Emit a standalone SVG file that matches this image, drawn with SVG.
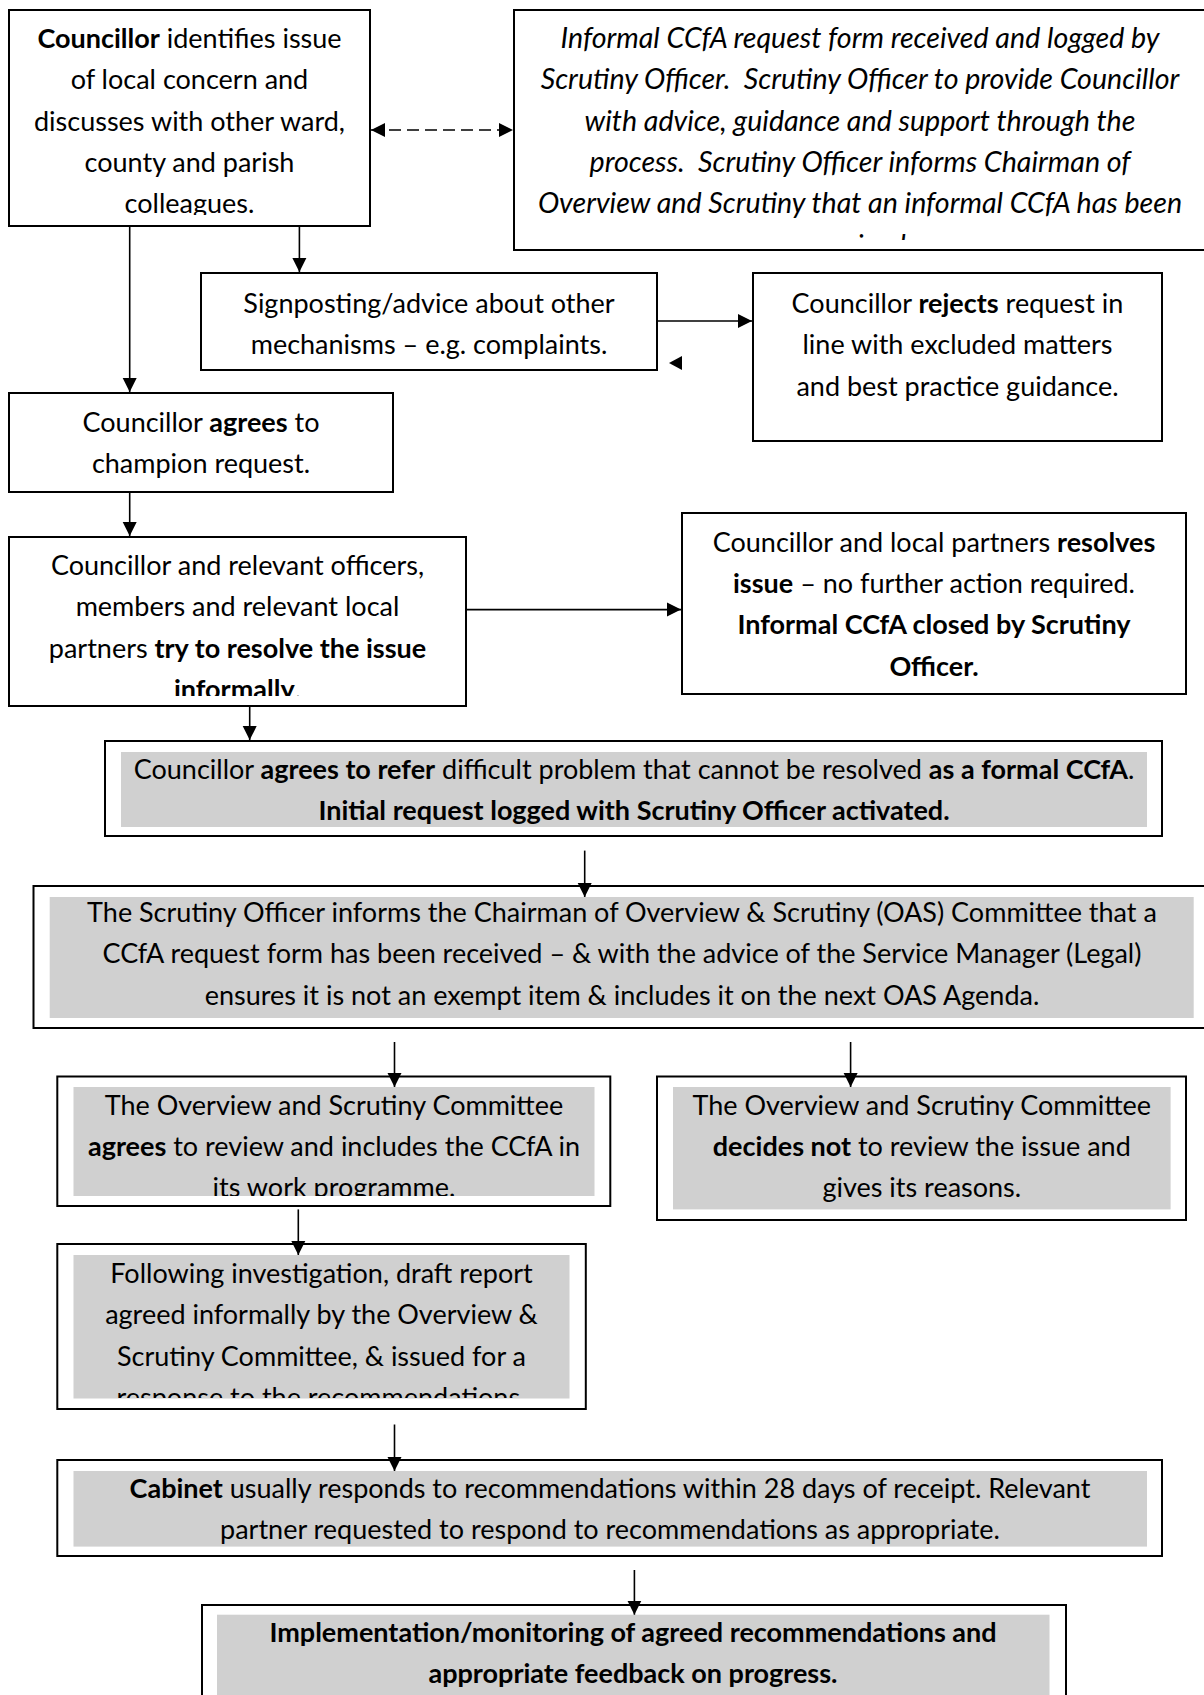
<svg xmlns="http://www.w3.org/2000/svg" width="1204" height="1695" viewBox="0 0 1204 1695">
<style>
.t{font-family:Lato,"Liberation Sans",sans-serif;font-size:27px;fill:#000;text-anchor:middle;white-space:pre}
.i{font-style:italic;font-size:28.6px}
.b{font-weight:bold}
.box{fill:#fff;stroke:#000;stroke-width:2}
.gray{fill:#d0d0d0;stroke:none}
.conn{stroke:#000;stroke-width:1.6;fill:none}
</style>
<defs>
<marker id="ah" markerUnits="userSpaceOnUse" markerWidth="14" markerHeight="15" viewBox="0 0 14 15" refX="14" refY="7.5" orient="auto-start-reverse">
<path d="M0,0.5 L14,7.5 L0,14.5 Z" fill="#000"/>
</marker>
<clipPath id="c1"><rect x="9" y="10" width="361" height="205"/></clipPath>
<clipPath id="c2"><rect x="514" y="10" width="690" height="230"/></clipPath>
<clipPath id="c6"><rect x="9" y="537" width="457" height="159"/></clipPath>
<clipPath id="c10"><rect x="73" y="1087" width="522" height="109"/></clipPath>
<clipPath id="c12"><rect x="73" y="1255" width="497" height="143"/></clipPath>
</defs>

<g id="n1">
<rect class="box" x="9" y="10" width="361" height="216"/>
<g clip-path="url(#c1)">
<text class="t" x="189.5" y="48"><tspan class="b">Councillor</tspan> identifies issue</text>
<text class="t" x="189.5" y="89.3">of local concern and</text>
<text class="t" x="189.5" y="130.6">discusses with other ward,</text>
<text class="t" x="189.5" y="171.9">county and parish</text>
<text class="t" x="189.5" y="213.2">colleagues.</text>
</g>
</g>

<g id="n2">
<rect class="box" x="514" y="10" width="695" height="240"/>
<g clip-path="url(#c2)">
<text class="t i" x="860" y="48">Informal CCfA request form received and logged by</text>
<text class="t i" x="860" y="89.3">Scrutiny Officer.  Scrutiny Officer to provide Councillor</text>
<text class="t i" x="860" y="130.6">with advice, guidance and support through the</text>
<text class="t i" x="860" y="171.9">process.  Scrutiny Officer informs Chairman of</text>
<text class="t i" x="860" y="213.2">Overview and Scrutiny that an informal CCfA has been</text>
<text class="t i" x="860" y="254.5">received.</text>
</g>
</g>

<g id="n3">
<rect class="box" x="201" y="273" width="456" height="97"/>
<text class="t" x="429" y="313">Signposting/advice about other</text>
<text class="t" x="429" y="354.3">mechanisms – e.g. complaints.</text>
</g>

<g id="n4">
<rect class="box" x="753" y="273" width="409" height="168"/>
<text class="t" x="957.5" y="313">Councillor <tspan class="b">rejects</tspan> request in</text>
<text class="t" x="957.5" y="354.3">line with excluded matters</text>
<text class="t" x="957.5" y="395.6">and best practice guidance.</text>
</g>

<g id="n5">
<rect class="box" x="9" y="393" width="384" height="99"/>
<text class="t" x="201" y="432">Councillor <tspan class="b">agrees</tspan> to</text>
<text class="t" x="201" y="473.3">champion request.</text>
</g>

<g id="n6">
<rect class="box" x="9" y="537" width="457" height="169"/>
<g clip-path="url(#c6)">
<text class="t" x="237.5" y="575">Councillor and relevant officers,</text>
<text class="t" x="237.5" y="616.3">members and relevant local</text>
<text class="t" x="237.5" y="657.6">partners <tspan class="b">try to resolve the issue</tspan></text>
<text class="t" x="237.5" y="698.9"><tspan class="b">informally</tspan>.</text>
</g>
</g>

<g id="n7">
<rect class="box" x="682" y="513" width="504" height="181"/>
<text class="t" x="934" y="551.6">Councillor and local partners <tspan class="b">resolves</tspan></text>
<text class="t" x="934" y="592.9"><tspan class="b">issue</tspan> – no further action required.</text>
<text class="t b" x="934" y="634.2">Informal CCfA closed by Scrutiny</text>
<text class="t b" x="934" y="675.5">Officer.</text>
</g>

<g id="n8">
<rect class="box" x="105" y="741" width="1057" height="95"/>
<rect class="gray" x="121" y="752" width="1026" height="75"/>
<text class="t" x="634" y="778.5">Councillor <tspan class="b">agrees to refer</tspan> difficult problem that cannot be resolved <tspan class="b">as a formal CCfA</tspan>.</text>
<text class="t b" x="634" y="819.8">Initial request logged with Scrutiny Officer activated.</text>
</g>

<g id="n9">
<rect class="box" x="33.5" y="886" width="1180" height="142"/>
<rect class="gray" x="49.7" y="897" width="1144" height="121"/>
<text class="t" x="622" y="922">The Scrutiny Officer informs the Chairman of Overview &amp; Scrutiny (OAS) Committee that a</text>
<text class="t" x="622" y="963.3">CCfA request form has been received – &amp; with the advice of the Service Manager (Legal)</text>
<text class="t" x="622" y="1004.6">ensures it is not an exempt item &amp; includes it on the next OAS Agenda.</text>
</g>

<g id="n10">
<rect class="box" x="57.3" y="1076.5" width="553" height="129.5"/>
<rect class="gray" x="73.5" y="1087" width="521" height="109"/>
<g clip-path="url(#c10)">
<text class="t" x="334" y="1114.7">The Overview and Scrutiny Committee</text>
<text class="t" x="334" y="1156"><tspan class="b">agrees</tspan> to review and includes the CCfA in</text>
<text class="t" x="334" y="1197.3">its work programme.</text>
</g>
</g>

<g id="n11">
<rect class="box" x="657" y="1076.5" width="529" height="143.5"/>
<rect class="gray" x="673" y="1087" width="497.6" height="122.4"/>
<text class="t" x="921.8" y="1114.7">The Overview and Scrutiny Committee</text>
<text class="t" x="921.8" y="1156"><tspan class="b">decides not</tspan> to review the issue and</text>
<text class="t" x="921.8" y="1197.3">gives its reasons.</text>
</g>

<g id="n12">
<rect class="box" x="57.3" y="1244" width="528.5" height="165"/>
<rect class="gray" x="73.5" y="1255" width="496" height="143.5"/>
<g clip-path="url(#c12)">
<text class="t" x="321.5" y="1283">Following investigation, draft report</text>
<text class="t" x="321.5" y="1324.3">agreed informally by the Overview &amp;</text>
<text class="t" x="321.5" y="1365.6">Scrutiny Committee, &amp; issued for a</text>
<text class="t" x="321.5" y="1406.9">response to the recommendations.</text>
</g>
</g>

<g id="n13">
<rect class="box" x="57.3" y="1460" width="1104.7" height="96"/>
<rect class="gray" x="73.5" y="1471" width="1073.5" height="75.6"/>
<text class="t" x="610" y="1498"><tspan class="b">Cabinet</tspan> usually responds to recommendations within 28 days of receipt. Relevant</text>
<text class="t" x="610" y="1539.3">partner requested to respond to recommendations as appropriate.</text>
</g>

<g id="n14">
<rect class="box" x="202" y="1605" width="864" height="110"/>
<rect class="gray" x="217" y="1614.7" width="832.5" height="100"/>
<text class="t b" x="633" y="1642">Implementation/monitoring of agreed recommendations and</text>
<text class="t b" x="633" y="1683.3">appropriate feedback on progress.</text>
</g>

<g id="connectors">
<line class="conn" x1="371" y1="130" x2="513" y2="130" stroke-width="2.5" stroke-dasharray="12,6" marker-start="url(#ah)" marker-end="url(#ah)"/>
<line class="conn" x1="129.7" y1="227" x2="129.7" y2="392" marker-end="url(#ah)"/>
<line class="conn" x1="299.4" y1="227" x2="299.4" y2="272" marker-end="url(#ah)"/>
<line class="conn" x1="658" y1="321" x2="752" y2="321" marker-end="url(#ah)"/>
<path d="M669,363 L682,356 L682,370 Z" fill="#000"/>
<line class="conn" x1="129.7" y1="493" x2="129.7" y2="536" marker-end="url(#ah)"/>
<line class="conn" x1="467" y1="609.6" x2="681" y2="609.6" marker-end="url(#ah)"/>
<line class="conn" x1="249.7" y1="707" x2="249.7" y2="740" marker-end="url(#ah)"/>
<line class="conn" x1="584.7" y1="850.6" x2="584.7" y2="897" marker-end="url(#ah)"/>
<line class="conn" x1="394.5" y1="1042" x2="394.5" y2="1087" marker-end="url(#ah)"/>
<line class="conn" x1="850.6" y1="1042" x2="850.6" y2="1087" marker-end="url(#ah)"/>
<line class="conn" x1="298.3" y1="1209.4" x2="298.3" y2="1255" marker-end="url(#ah)"/>
<line class="conn" x1="394.5" y1="1424.5" x2="394.5" y2="1471" marker-end="url(#ah)"/>
<line class="conn" x1="634.4" y1="1570" x2="634.4" y2="1614.7" marker-end="url(#ah)"/>
</g>
</svg>
